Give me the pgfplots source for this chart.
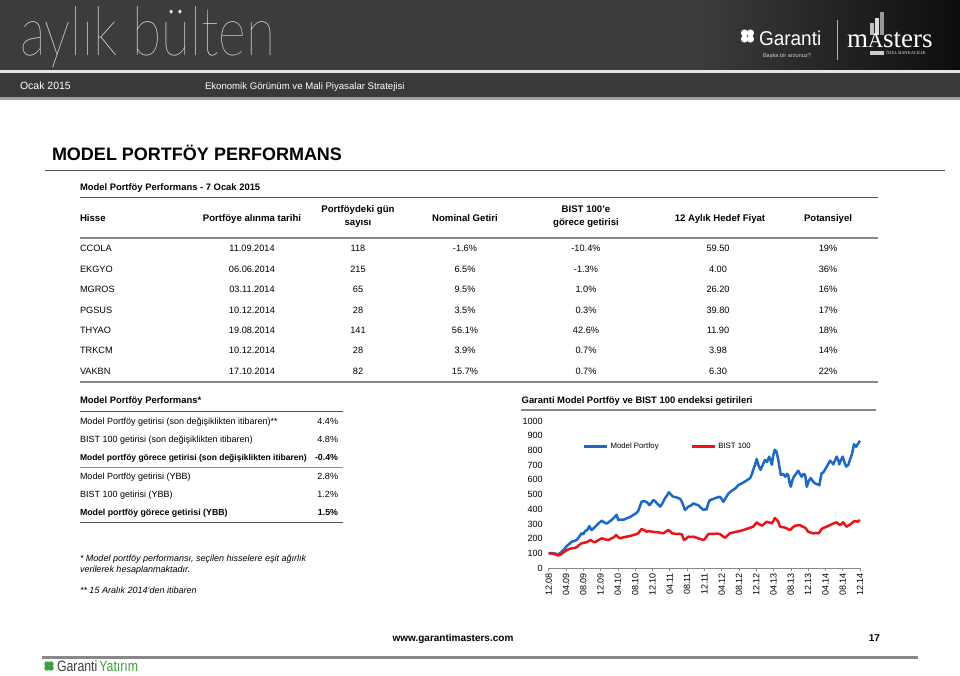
\documentclass[border=0pt]{standalone}
\usepackage{fontspec}
\setmainfont{Liberation Sans}
\newfontfamily\seriffont{Liberation Serif}
\IfFontExistsTF{Lato Hairline}{\newfontfamily\thinfont{Lato Hairline}}{\IfFontExistsTF{Lato Light}{\newfontfamily\thinfont{Lato Light}}{\newfontfamily\thinfont{Lato}}}
\usepackage{graphicx}
\usepackage{pgfplots}
\pgfplotsset{compat=1.18}
\definecolor{bandgray}{RGB}{60,60,60}
\definecolor{linegray}{RGB}{136,136,136}
\definecolor{darkline}{RGB}{80,80,80}
\definecolor{mpblue}{RGB}{30,105,198}
\definecolor{bistred}{RGB}{232,20,26}
\definecolor{gygreen}{RGB}{60,160,60}
\newcommand\fs[1]{\fontsize{#1}{#1}\selectfont}

\begin{document}
\begin{tikzpicture}[x=1pt,y=1pt,every node/.style={inner sep=0pt,outer sep=0pt}]
\path[use as bounding box,fill=white] (0,0) rectangle (960,-675);
% header bands
\fill[bandgray] (0,0) rectangle (700,-70);
\shade[left color=bandgray,right color=black!95] (700,0) rectangle (960,-70);
\fill[black!10] (0,-70) rectangle (960,-73);
\fill[bandgray!95!black] (0,-73) rectangle (960,-97);
\fill[linegray!80] (0,-97) rectangle (960,-99.5);
\node[anchor=north west,text=white!92!black] at (20,-6.7) {\resizebox*{255pt}{61pt}{\thinfont aylık bülten}};
\node[anchor=base west,text=white] at (20,-89) {\fs{10.5}Ocak 2015};
\node[anchor=base west,text=white] at (205,-89) {\fs{9.6}Ekonomik Görünüm ve Mali Piyasalar Stratejisi};
% Garanti logo
\begin{scope}[shift={(747.5,-36)},white]
\foreach \a in {45,135,225,315} {\fill[rotate=\a] (4.2,0) circle (3.6);}
\end{scope}
\node[anchor=base west,text=white] at (759,-45) {\scalebox{0.95}[1]{\fs{20}Garanti}};
\node[anchor=base west,text=white!80!black] at (763,-57) {\fs{5.6}Başka bir arzunuz?};
\draw[white!70!black,line width=0.6pt] (837,-20) -- (837,-60);
\fill[white!75!black] (870,-35) rectangle (874,-23);
\fill[white!85!black] (875,-35) rectangle (879,-18);
\fill[white!60!black] (880,-35) rectangle (884,-12);
\node[anchor=base west,text=white] at (847,-47) {\seriffont\fs{27}m\raisebox{0pt}{\fs{21}A}sters};
\fill[white!80!black] (870,-50.5) rectangle (884,-54.5);
\node[anchor=base west,text=white!90!black] at (886,-54.5) {\seriffont\fs{4.4}ÖZEL BANKACILIK};
% title
\node[anchor=base west] at (52,-160) {\fs{18}\bfseries MODEL PORTFÖY PERFORMANS};
\draw[darkline,line width=0.8pt] (45,-170) -- (945,-170);
\node[anchor=base west] at (80,-190) {\fs{9.4}\bfseries Model Portföy Performans - 7 Ocak 2015};
\draw[darkline,line width=0.8pt] (80,-197.7) -- (878,-197.7);
% header
\begin{scope}[every node/.append style={font=\fs{9.6}\bfseries}]
\node[anchor=base west] at (80,-221) {Hisse};
\node[anchor=base] at (252,-221) {Portföye alınma tarihi};
\node[anchor=base] at (358,-212.5) {Portföydeki gün};
\node[anchor=base] at (358,-225) {sayısı};
\node[anchor=base] at (465,-221) {Nominal Getiri};
\node[anchor=base] at (586,-212.5) {BIST 100'e};
\node[anchor=base] at (586,-225) {görece getirisi};
\node[anchor=base] at (720,-221) {12 Aylık Hedef Fiyat};
\node[anchor=base] at (828,-221) {Potansiyel};
\end{scope}
\draw[linegray,line width=2pt] (80,-237.5) -- (878,-237.5);
\draw[linegray,line width=2pt] (80,-382) -- (878,-382);
\begin{scope}[every node/.append style={font=\fs{9.2}}]
\foreach \n/\d/\g/\nom/\rel/\tgt/\pot [count=\i from 0] in {
CCOLA/11.09.2014/118/-1.6\%/-10.4\%/59.50/19\%,
EKGYO/06.06.2014/215/6.5\%/-1.3\%/4.00/36\%,
MGROS/03.11.2014/65/9.5\%/1.0\%/26.20/16\%,
PGSUS/10.12.2014/28/3.5\%/0.3\%/39.80/17\%,
THYAO/19.08.2014/141/56.1\%/42.6\%/11.90/18\%,
TRKCM/10.12.2014/28/3.9\%/0.7\%/3.98/14\%,
VAKBN/17.10.2014/82/15.7\%/0.7\%/6.30/22\%} {
\pgfmathsetmacro\yy{-251.7-20.45*\i}
\node[anchor=base west] at (80,\yy) {\n};
\node[anchor=base] at (252,\yy) {\d};
\node[anchor=base] at (358,\yy) {\g};
\node[anchor=base] at (465,\yy) {\nom};
\node[anchor=base] at (586,\yy) {\rel};
\node[anchor=base] at (718,\yy) {\tgt};
\node[anchor=base] at (828,\yy) {\pot};
}
\end{scope}
% left panel
\node[anchor=base west] at (80,-403.5) {\fs{9.4}\bfseries Model Portföy Performans*};
\draw[darkline,line width=0.8pt] (80,-411.7) -- (343,-411.7);
\begin{scope}[every node/.append style={font=\fs{9}}]
\node[anchor=base west] at (80,-424) {Model Portföy getirisi (son değişiklikten itibaren)**};
\node[anchor=base east] at (338,-424) {4.4\%};
\node[anchor=base west] at (80,-442) {BIST 100 getirisi (son değişiklikten itibaren)};
\node[anchor=base east] at (338,-442) {4.8\%};
\node[anchor=base west] at (80,-460) {\fs{8.5}\bfseries Model portföy görece getirisi (son değişiklikten itibaren)};
\node[anchor=base east] at (338,-460) {\fs{8.8}\bfseries -0.4\%};
\node[anchor=base west] at (80,-479.5) {Model Portföy getirisi (YBB)};
\node[anchor=base east] at (338,-479.5) {2.8\%};
\node[anchor=base west] at (80,-497.3) {BIST 100 getirisi (YBB)};
\node[anchor=base east] at (338,-497.3) {1.2\%};
\node[anchor=base west] at (80,-515) {\fs{8.8}\bfseries Model portföy görece getirisi (YBB)};
\node[anchor=base east] at (338,-515) {\fs{8.8}\bfseries 1.5\%};
\node[anchor=base west] at (80,-561.7) {\itshape * Model portföy performansı, seçilen hisselere eşit ağırlık};
\node[anchor=base west] at (80,-572.3) {\itshape verilerek hesaplanmaktadır.};
\node[anchor=base west] at (80,-593.3) {\itshape ** 15 Aralık 2014'den itibaren};
\end{scope}
\draw[linegray,line width=1.6pt] (80,-467.3) -- (343,-467.3);
\draw[darkline,line width=1pt] (80,-522.7) -- (343,-522.7);
% chart title
\node[anchor=base west] at (521.7,-403.3) {\fs{9.4}\bfseries Garanti Model Portföy ve BIST 100 endeksi getirileri};
\draw[linegray,line width=1.4pt] (521,-410) -- (876,-410);
% chart
\begin{axis}[
  at={(548.7pt,-568pt)}, anchor=south west,
  scale only axis, width=311.3pt, height=147pt,
  xmin=0, xmax=72, ymin=0, ymax=1000,
  axis x line*=bottom, axis y line*=left,
  x axis line style={draw=linegray, line width=0.7pt, -},
  y axis line style={draw=none},
  xtick={0,4,...,72},
  xticklabels={12.08,04.09,08.09,12.09,04.10,08.10,12.10,04.11,08.11,12.11,04.12,08.12,12.12,04.13,08.13,12.13,04.14,08.14,12.14},
  x tick label style={rotate=90, anchor=east, font=\fs{9}, xshift=-2pt},
  ytick={0,100,...,1000},
  y tick label style={font=\fs{9}, xshift=-3pt},
  xtick style={draw=linegray, line width=0.6pt},
  ytick style={draw=none},
  tick align=outside, major tick length=3pt,
  /pgf/number format/assume math mode=true,
  /pgf/number format/1000 sep={},
  clip=false,
  legend columns=2,
  legend style={draw=none, fill=none, at={(0.11,0.825)}, anchor=west, font=\fs{7.8}, inner sep=0pt,
    /tikz/every even column/.append style={column sep=30pt}},
  legend cell align=left,
  legend image code/.code={\draw[#1, line width=2.6pt] (0pt,0pt) -- (23pt,0pt);},
]
\addplot[mpblue, line width=2.5pt, line join=round] coordinates {
(0,100)(0.8,102)(1.5,98)(2.2,93)(2.8,105)(3.5,125)(4.2,150)(4.8,165)(5.3,178)(6,185)
(6.5,192)(7,210)(7.6,236)(8,230)(8.4,250)(9,262)(9.4,285)(9.9,258)(10.4,270)(11.1,292)
(11.6,305)(12.3,322)(12.8,310)(13.4,302)(14,315)(14.6,328)(15.2,345)(15.7,362)(16.1,326)(16.7,330)
(17.3,328)(17.9,336)(18.4,342)(19,350)(19.6,362)(20.2,372)(20.7,388)(21.1,420)(21.5,452)(22.1,455)
(22.7,448)(23.3,428)(23.8,445)(24.2,462)(24.6,455)(25,440)(25.4,430)(25.8,418)(26.3,440)(26.9,475)
(27.4,495)(27.8,515)(28.3,498)(28.8,485)(29.4,482)(30,475)(30.4,470)(30.8,450)(31.2,420)(31.5,395)
(31.9,405)(32.3,418)(32.9,425)(33.5,440)(34,432)(34.6,428)(35.2,410)(35.8,395)(36.2,400)(36.5,398)
(36.9,440)(37.3,462)(37.9,468)(38.5,475)(39,480)(39.6,485)(40,470)(40.4,450)(41,480)(41.6,508)
(42.1,520)(42.7,532)(43.3,545)(43.9,565)(44.6,575)(45.4,588)(46,600)(46.6,612)(47,640)(47.3,668)
(47.7,700)(48.1,742)(48.5,700)(49,668)(49.5,700)(50,735)(50.5,722)(51,757)(51.3,735)(51.6,702)
(51.9,760)(52.3,805)(52.7,790)(53.1,735)(53.4,680)(53.7,633)(54.2,640)(54.7,621)(55.1,640)(55.4,632)
(55.7,580)(56,553)(56.4,600)(56.7,621)(57.2,640)(57.7,662)(58.1,640)(58.5,621)(58.9,640)(59.3,633)
(59.7,553)(60.1,590)(60.6,612)(61.1,590)(61.6,576)(62.1,570)(62.6,563)(63.1,645)(63.5,650)(63.9,668)
(64.5,700)(65.1,730)(65.5,718)(65.8,705)(66.2,730)(66.6,758)(67,730)(67.2,705)(67.6,735)(68,758)
(68.4,720)(68.8,690)(69.3,702)(69.7,740)(70.1,770)(70.4,810)(70.6,842)(71.1,825)(71.6,848)(72,866)
};
\addlegendentry{Model Portfoy}
\addplot[bistred, line width=2.5pt, line join=round] coordinates {
(0,100)(0.8,98)(1.5,93)(2.2,85)(2.8,92)(3.2,102)(3.7,112)(4.2,122)(4.8,130)(5.3,134)
(6,136)(6.5,142)(7,155)(7.6,168)(8.2,172)(8.8,176)(9.2,182)(9.6,190)(10.1,182)(10.7,175)
(11.5,190)(12.3,202)(12.9,196)(13.8,190)(14.4,200)(15,208)(15.6,224)(16,212)(16.5,202)(17.2,208)
(18,213)(18.8,218)(19.6,224)(20.2,230)(20.7,236)(21.1,252)(21.5,265)(22.1,258)(22.7,247)(23.3,252)
(23.8,247)(24.6,244)(25.4,243)(26,238)(26.5,236)(27.1,248)(27.7,258)(28.1,250)(28.5,236)(29,234)
(29.6,231)(30.2,232)(30.8,229)(31.1,205)(31.3,190)(31.8,200)(32.3,213)(32.9,212)(33.5,213)(34,208)
(34.6,202)(35.2,196)(35.8,190)(36.3,205)(36.9,231)(37.5,233)(38.1,231)(38.8,234)(39.6,231)(40.2,218)
(40.8,206)(41.3,220)(41.9,236)(42.7,242)(43.5,247)(44.2,252)(45,258)(45.6,264)(46.2,270)(46.8,276)
(47.3,281)(47.7,295)(48.1,311)(48.7,298)(49.3,288)(49.9,302)(50.4,315)(51,310)(51.6,304)(52,322)
(52.3,340)(52.7,330)(53.1,315)(53.5,281)(54.1,278)(54.7,274)(55.3,266)(55.8,258)(56.4,275)(57,288)
(57.6,290)(58.1,292)(58.7,282)(59.3,274)(59.7,260)(60,247)(60.6,240)(61.2,236)(61.8,238)(62.4,236)
(62.8,250)(63.1,265)(63.7,275)(64.3,281)(64.9,290)(65.4,297)(66,305)(66.6,311)(67,300)(67.4,292)
(67.8,302)(68.1,311)(68.5,295)(68.9,281)(69.5,292)(70.1,304)(70.5,315)(70.8,320)(71.4,315)(72,326)
};
\addlegendentry{BIST 100}
\end{axis}
% footer
\node[anchor=base] at (453,-641) {\fs{10}\bfseries www.garantimasters.com};
\node[anchor=base east] at (880,-641) {\fs{10}\bfseries 17};
\draw[linegray,line width=3pt] (42,-657) -- (918,-657);
\begin{scope}[shift={(49,-666)},gygreen]
\foreach \a in {45,135,225,315} {\fill[rotate=\a] (3,0) circle (2.6);}
\end{scope}
\node[anchor=base west] at (57,-671) {\scalebox{0.82}[1]{\fs{15}\textcolor{black!75}{Garanti}\,\textcolor{gygreen}{Yatırım}}};
\end{tikzpicture}
\end{document}
